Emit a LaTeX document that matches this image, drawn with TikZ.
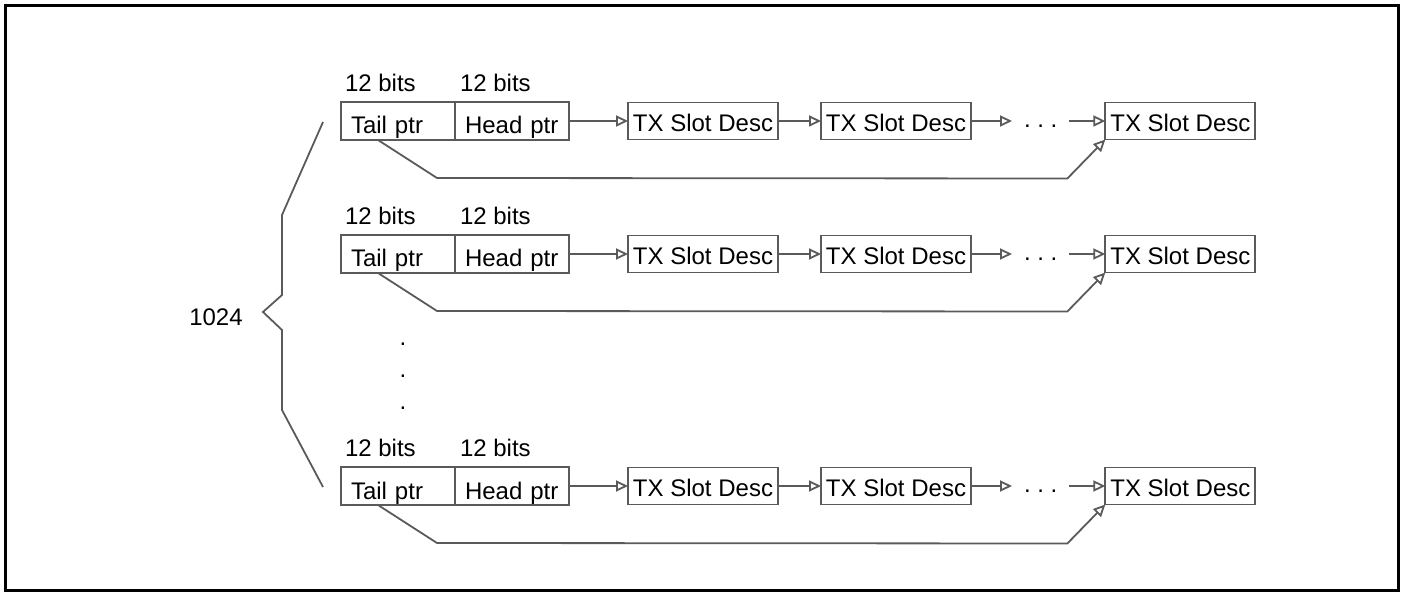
\documentclass[tikz,border=0pt]{standalone}
\usepackage{fontspec}
\setmainfont{Liberation Sans}
\usetikzlibrary{arrows.meta,positioning}
\definecolor{qline}{RGB}{90,90,90}

\begin{document}
\begin{tikzpicture}[x=0.5pt,y=-0.5pt,
  font=\fontsize{12}{14}\selectfont,
  ptr/.style={rectangle,draw=qline,line width=0.9pt,outer sep=0pt,inner sep=0pt,inner xsep=5pt,text width=47pt,align=left,text height=16pt,text depth=3pt},
  desc/.style={rectangle,draw=qline,line width=0.9pt,outer sep=0pt,inner sep=0pt,minimum width=75pt,text height=14.5pt,text depth=4pt},
  bits/.style={inner sep=0pt,outer sep=0pt,anchor=base west},
  gap/.style={inner sep=0pt,outer sep=0pt,inner xsep=6pt,text height=8pt,text depth=1.5pt},
  lnk/.style={draw=qline,line width=0.9pt,-{Triangle[open,length=6pt,width=5.5pt]}}]
\useasboundingbox (0,0) rectangle (1401,592);
\draw[line width=1.5pt] (5,5.5) rectangle (1398.5,590);
% one queue per row
\foreach \r/\y in {1/0,2/133,3/365}{
  \node[ptr,anchor=north west] (tail\r) at (341,102+\y) {Tail ptr};
  \node[ptr,right=0pt of tail\r] (head\r) {Head ptr};
  \node[bits] (tb\r) at ([shift={(4,-10)}]tail\r.north west) {12 bits};
  \node[bits] (hb\r) at ([shift={(5,-10)}]head\r.north west) {12 bits};
  \node[desc,right=29.5pt of head\r] (sa\r) {TX Slot Desc};
  \node[desc,right=21.5pt of sa\r] (sb\r) {TX Slot Desc};
  \node[gap,right=20.5pt of sb\r] (more\r) {.\ .\ .};
  \node[desc,right=18pt of more\r] (sn\r) {TX Slot Desc};
  \draw[lnk] (head\r) -- (sa\r);
  \draw[lnk] (sa\r) -- (sb\r);
  \draw[lnk] (sb\r) -- (more\r);
  \draw[lnk] (more\r) -- (sn\r);
  \draw[lnk] ([xshift=18.5pt]tail\r.south west) -- ++(59,38) -- ([shift={(-38,39)}]sn\r.south west) -- (sn\r.south west);
}
\foreach \d in {344,376,408} \node[inner sep=0pt] (vd\d) at (403,\d) {.};
% brace
\node (cnt) at (216,317) {1024};
\draw[qline,line width=0.9pt] (323,122) -- (282,215) -- (282,295) -- (263,312) -- (282,330) -- (282,410) -- (323,487);
\end{tikzpicture}
\end{document}
